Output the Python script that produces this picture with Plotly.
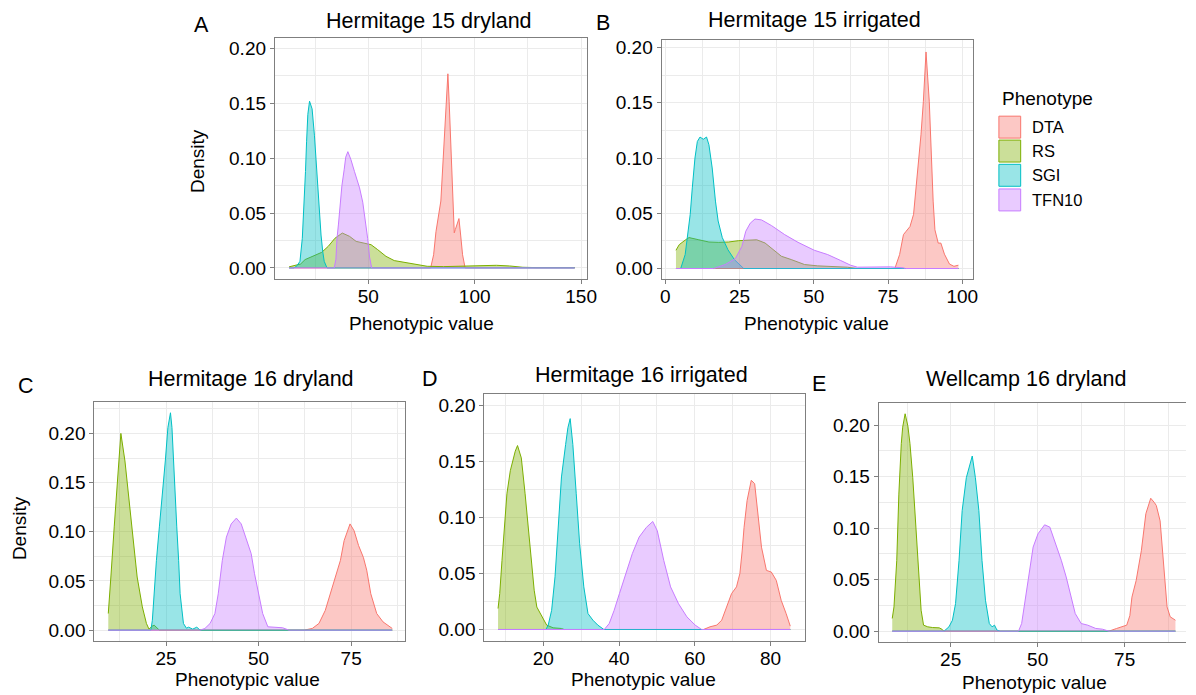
import plotly.graph_objects as go

W, H = 1196, 695

# ---------------- data ----------------
phenotypes = ["DTA", "RS", "SGI", "TFN10"]
line_colors = ["#F8766D", "#7CAE00", "#00BFC4", "#C77CFF"]
fill_colors = ["rgba(248,118,109,0.4)", "rgba(124,174,0,0.4)",
               "rgba(0,191,196,0.4)", "rgba(199,124,255,0.4)"]

panel_titles = ["Hermitage 15 dryland", "Hermitage 15 irrigated",
                "Hermitage 16 dryland", "Hermitage 16 irrigated",
                "Wellcamp 16 dryland"]
panel_letters = ["A", "B", "C", "D", "E"]

# Panel A  - Hermitage 15 dryland
A_DTA_x = [12.8, 79.3, 80.7, 81.8, 84.1, 85.0, 86.0, 86.7, 87.4, 88.0, 88.6, 89.0, 89.6, 90.4,
           90.9, 91.9, 92.6, 93.4, 94.3, 95.5, 147.0]
A_DTA_y = [0, 0, 0.012, 0.033, 0.061, 0.091, 0.121, 0.152, 0.177, 0.152, 0.121, 0.091, 0.061,
           0.032, 0.035, 0.042, 0.045, 0.030, 0.012, 0, 0]
A_RS_x = [12.8, 15.5, 18.2, 20.3, 24.2, 28.1, 31.2, 34.3, 37.8, 41.2, 44.3, 48.2, 51.3, 54.4,
          58.3, 62.2, 66.8, 71.5, 77.7, 85.4, 97.8, 104.0, 110.2, 116.4, 122.6, 128.8, 147.0]
A_RS_y = [0.001, 0.002, 0.0036, 0.0076, 0.0106, 0.0142, 0.0197, 0.027, 0.0318, 0.0288, 0.0242,
          0.0224, 0.0212, 0.0167, 0.0106, 0.0067, 0.0052, 0.0033, 0.0015, 0.0012, 0.0015, 0.0018,
          0.0024, 0.0018, 0.0006, 0.0003, 0.0003]
A_SGI_x = [12.8, 15.1, 16.5, 17.9, 19.0, 19.8, 20.5, 21.0, 21.6, 22.4, 23.6, 24.7, 25.7, 26.7,
           27.8, 28.6, 29.3, 30.6, 147.0]
A_SGI_y = [0, 0, 0.002, 0.006, 0.027, 0.055, 0.088, 0.115, 0.140, 0.152, 0.145, 0.121, 0.091,
           0.060, 0.030, 0.015, 0.006, 0, 0]
A_TFN10_x = [12.8, 34.0, 34.8, 35.3, 36.0, 36.8, 37.6, 38.7, 39.4, 40.4, 41.8, 43.5, 44.6, 45.9,
             47.4, 48.8, 49.7, 50.6, 51.6, 147.0]
A_TFN10_y = [0, 0, 0.008, 0.027, 0.040, 0.058, 0.075, 0.090, 0.101, 0.106, 0.099, 0.088, 0.082,
             0.073, 0.060, 0.042, 0.027, 0.010, 0, 0]

# Panel B  - Hermitage 15 irrigated
B_DTA_x = [3.6, 77.3, 78.9, 80.2, 81.1, 82.4, 83.6, 84.4, 85.0, 86.1, 86.9, 87.8, 88.9, 89.3,
           89.8, 90.2, 90.8, 91.9, 92.8, 94.0, 95.7, 97.2, 98.7]
B_DTA_y = [0, 0, 0.0126, 0.0307, 0.0337, 0.038, 0.049, 0.070, 0.0908, 0.121, 0.151, 0.196,
           0.151, 0.121, 0.091, 0.061, 0.035, 0.023, 0.023, 0.013, 0.004, 0.002, 0.003]
B_RS_x = [3.6, 4.7, 6.9, 8.0, 11.3, 14.7, 18.0, 21.3, 24.7, 28.0, 30.8, 33.6, 36.3, 39.1, 42.4,
          46.9, 51.3, 56.9, 61.3, 64.7, 98.7]
B_RS_y = [0.0165, 0.0216, 0.0261, 0.028, 0.026, 0.024, 0.0237, 0.024, 0.0252, 0.026, 0.026,
          0.0231, 0.0171, 0.0111, 0.0081, 0.0036, 0.0024, 0.0021, 0.0012, 0, 0]
B_SGI_x = [3.6, 5.2, 6.7, 7.6, 8.4, 9.1, 10.0, 10.8, 11.7, 12.8, 13.9, 14.7, 15.8, 16.9, 17.8,
           19.2, 21.1, 23.3, 26.4, 98.7]
B_SGI_y = [0, 0, 0.0126, 0.031, 0.049, 0.073, 0.100, 0.115, 0.119, 0.117, 0.119, 0.112, 0.091,
           0.061, 0.043, 0.028, 0.017, 0.008, 0, 0]
B_TFN10_x = [3.6, 16.3, 20.2, 23.6, 25.8, 27.1, 28.6, 30.2, 32.4, 35.8, 40.2, 44.7, 50.2, 54.7,
             59.1, 62.4, 64.7, 70.2, 73.6, 75.8, 80.2, 80.8, 98.7]
B_TFN10_y = [0, 0, 0.0036, 0.009, 0.020, 0.0337, 0.041, 0.0448, 0.044, 0.0388, 0.0307, 0.0237,
             0.0165, 0.0126, 0.0072, 0.003, 0.0012, 0.0015, 0.002, 0.0015, 0.0006, 0, 0]

# Panel C  - Hermitage 16 dryland
C_DTA_x = [9.4, 62.3, 64.5, 66.3, 68.0, 69.4, 70.7, 72.1, 73.1, 74.7, 75.8, 77.0, 78.3, 79.2,
           80.3, 81.9, 83.6, 85.4, 86.1]
C_DTA_y = [0, 0, 0.0017, 0.0068, 0.020, 0.037, 0.054, 0.071, 0.091, 0.108, 0.101, 0.086, 0.074,
           0.061, 0.037, 0.0169, 0.0084, 0.0034, 0.0017]
C_RS_x = [9.4, 9.8, 10.1, 11.0, 11.9, 12.8, 13.9, 15.0, 16.2, 17.2, 18.6, 19.7, 20.4, 21.2,
          21.8, 22.6, 23.2, 86.1]
C_RS_y = [0.0169, 0.035, 0.054, 0.105, 0.155, 0.200, 0.172, 0.132, 0.088, 0.054, 0.0236,
          0.0068, 0.001, 0.004, 0.005, 0.002, 0, 0]
C_SGI_x = [9.4, 20.9, 21.3, 21.7, 22.4, 23.2, 24.1, 24.8, 25.5, 26.2, 26.6, 27.0, 27.5, 27.9,
           28.4, 28.8, 29.7, 30.5, 31.1, 32.2, 33.3, 34.2, 86.1]
C_SGI_y = [0, 0, 0.010, 0.037, 0.071, 0.105, 0.139, 0.172, 0.206, 0.221, 0.206, 0.172, 0.139,
           0.105, 0.071, 0.037, 0.0068, 0.002, 0.003, 0.001, 0.003, 0, 0]
C_TFN10_x = [9.4, 34.2, 35.5, 36.9, 38.2, 39.1, 40.2, 41.3, 42.6, 44.0, 45.3, 46.7, 48.0, 48.9,
             50.0, 51.1, 52.5, 54.7, 56.5, 58.2, 86.1]
C_TFN10_y = [0, 0, 0.0017, 0.0068, 0.0169, 0.037, 0.071, 0.0946, 0.108, 0.1139, 0.108, 0.091,
             0.0777, 0.0574, 0.037, 0.0169, 0.0034, 0.0027, 0.0024, 0, 0]

# Panel D  - Hermitage 16 irrigated
D_DTA_x = [8.06, 62.3, 64.0, 65.8, 67.1, 68.4, 69.7, 71.0, 71.9, 72.5, 73.0, 73.8, 74.9, 75.8,
           76.7, 77.6, 78.9, 80.2, 81.5, 82.8, 84.1, 84.8, 85.2]
D_DTA_y = [0, 0, 0.0024, 0.0039, 0.0083, 0.020, 0.032, 0.038, 0.050, 0.070, 0.091, 0.115,
           0.133, 0.130, 0.103, 0.0734, 0.0527, 0.0512, 0.0438, 0.026, 0.0142, 0.006, 0.003]
D_RS_x = [8.06, 8.5, 9.1, 9.8, 10.4, 11.3, 12.6, 13.2, 14.2, 15.2, 16.1, 16.9, 17.6, 18.3, 19.6,
          20.9, 22.6, 24.8, 25.5, 85.2]
D_RS_y = [0.0187, 0.032, 0.0616, 0.091, 0.121, 0.1416, 0.159, 0.164, 0.153, 0.121, 0.091,
          0.0616, 0.035, 0.020, 0.0113, 0.0039, 0.0015, 0.0009, 0, 0]
D_SGI_x = [8.06, 20.7, 21.3, 22.2, 23.1, 23.9, 24.8, 25.9, 26.5, 27.1, 27.8, 28.7, 29.6, 30.7,
           31.8, 33.1, 34.4, 36.0, 85.2]
D_SGI_y = [0, 0, 0.0039, 0.017, 0.047, 0.091, 0.136, 0.165, 0.180, 0.188, 0.165, 0.121, 0.0764,
           0.038, 0.0142, 0.0083, 0.0039, 0, 0]
D_TFN10_x = [8.06, 36.1, 37.4, 38.7, 40.1, 41.8, 43.5, 45.3, 47.2, 48.9, 50.1, 51.8, 53.6, 55.7,
             57.9, 60.1, 61.8, 85.2]
D_TFN10_y = [0, 0, 0.0053, 0.017, 0.032, 0.050, 0.0676, 0.0824, 0.091, 0.0963, 0.088, 0.0616,
             0.038, 0.023, 0.0113, 0.0039, 0, 0]

# Panel E  - Wellcamp 16 dryland
E_DTA_x = [8.2, 70.5, 72.7, 75.6, 76.5, 77.1, 78.3, 79.8, 81.1, 82.5, 83.5, 84.1, 85.2, 86.2,
           87.2, 88.1, 89.0, 89.6]
E_DTA_y = [0, 0, 0.0026, 0.0058, 0.015, 0.033, 0.049, 0.078, 0.114, 0.129, 0.125, 0.122, 0.107,
           0.0655, 0.0235, 0.0139, 0.0115, 0.0106]
E_RS_x = [8.2, 8.7, 9.5, 10.1, 10.8, 11.2, 11.9, 12.7, 13.3, 14.1, 15.0, 15.8, 16.5, 17.2, 18.4,
          19.8, 21.7, 22.6, 23.0, 89.6]
E_RS_y = [0.0123, 0.0235, 0.0687, 0.133, 0.182, 0.198, 0.211, 0.199, 0.182, 0.149, 0.101,
          0.0558, 0.0203, 0.0058, 0.0042, 0.0035, 0.0032, 0.0016, 0, 0]
E_SGI_x = [8.2, 23.1, 24.5, 25.5, 26.4, 27.4, 28.3, 29.5, 31.2, 32.1, 33.1, 34.0, 35.0, 36.1,
           36.9, 37.6, 38.3, 39.2, 89.6]
E_SGI_y = [0, 0, 0.0042, 0.0106, 0.0268, 0.0687, 0.117, 0.149, 0.170, 0.149, 0.117, 0.0687,
           0.030, 0.0074, 0.0042, 0.0058, 0.001, 0, 0]
E_TFN10_x = [8.2, 44.5, 45.4, 46.3, 47.5, 48.7, 50.1, 52.0, 53.5, 54.9, 56.8, 58.2, 59.4, 60.8,
             62.5, 64.4, 66.7, 68.6, 70.5, 89.6]
E_TFN10_y = [0, 0, 0.0074, 0.0268, 0.0558, 0.0816, 0.0945, 0.1032, 0.101, 0.088, 0.0687,
             0.0526, 0.0365, 0.0171, 0.0074, 0.0058, 0.0026, 0.0019, 0, 0]

y_ticks = [0.0, 0.05, 0.10, 0.15, 0.20]
x_ticks = [[50, 100, 150], [0, 25, 50, 75, 100], [25, 50, 75], [20, 40, 60, 80], [25, 50, 75]]

series = [
    [(A_DTA_x, A_DTA_y), (A_RS_x, A_RS_y), (A_SGI_x, A_SGI_y), (A_TFN10_x, A_TFN10_y)],
    [(B_DTA_x, B_DTA_y), (B_RS_x, B_RS_y), (B_SGI_x, B_SGI_y), (B_TFN10_x, B_TFN10_y)],
    [(C_DTA_x, C_DTA_y), (C_RS_x, C_RS_y), (C_SGI_x, C_SGI_y), (C_TFN10_x, C_TFN10_y)],
    [(D_DTA_x, D_DTA_y), (D_RS_x, D_RS_y), (D_SGI_x, D_SGI_y), (D_TFN10_x, D_TFN10_y)],
    [(E_DTA_x, E_DTA_y), (E_RS_x, E_RS_y), (E_SGI_x, E_SGI_y), (E_TFN10_x, E_TFN10_y)],
]

# ---------------- layout geometry (pixels) ----------------
# plot-area boxes: left, right, top, bottom
boxes = [(275.7, 591.0, 35.7, 277.7),
         (666.3, 980.7, 37.7, 277.7),
         (93.3, 407.3, 401.0, 641.0),
         (487.3, 810.7, 393.3, 641.0),
         (885.7, 1196.0, 401.7, 641.7)]
x_ranges = [(6.14, 152.8), (-1.23, 103.57), (5.64, 89.6), (4.46, 88.97), (4.34, 92.64)]
y_ranges = [(-0.01, 0.21), (-0.0094, 0.2072), (-0.0112, 0.2321), (-0.0104, 0.2098), (-0.0104, 0.2219)]
x_dticks = [50, 25, 25, 20, 25]

def fx(px):
    return px / W

def fy(py):
    return 1 - py / H

FONT = "Liberation Sans, Arial, sans-serif"
BORDER = "#7f7f7f"
GRID = "#ebebeb"

fig = go.Figure()
layout = dict(width=W, height=H, margin=dict(l=0, r=0, t=0, b=0),
              paper_bgcolor="white", plot_bgcolor="white",
              font=dict(family=FONT, color="black"), showlegend=False)

for i in range(5):
    n = "" if i == 0 else str(i + 1)
    l, r, t, b = boxes[i]
    for k in range(4):
        sx, sy = series[i][k]
        fig.add_trace(go.Scatter(x=sx, y=sy, mode="lines", fill="tozeroy",
                                 fillcolor=fill_colors[k],
                                 line=dict(color=line_colors[k], width=1),
                                 name=phenotypes[k], xaxis="x" + n, yaxis="y" + n,
                                 hoverinfo="skip"))
    last = (i == 4)
    layout["xaxis" + n] = dict(
        domain=[fx(l), min(1.0, fx(r))], anchor="y" + n, range=list(x_ranges[i]),
        tickmode="array", tickvals=x_ticks[i], ticktext=[str(v) for v in x_ticks[i]],
        ticks="outside", ticklen=4, tickcolor=BORDER, tickwidth=1,
        ticklabelstandoff=-4,
        tickfont=dict(size=19, color="black", family=FONT),
        showgrid=True, gridcolor=GRID, gridwidth=1.2,
        minor=dict(dtick=x_dticks[i] / 2, tick0=0, showgrid=True, gridcolor=GRID, gridwidth=0.6, ticks=""),
        showline=True, linecolor=BORDER, linewidth=1.2, mirror=True, zeroline=False,
        fixedrange=True)
    layout["yaxis" + n] = dict(
        domain=[fy(b), fy(t)], anchor="x" + n, range=list(y_ranges[i]),
        tickmode="array", tickvals=y_ticks, ticktext=["%.2f" % v for v in y_ticks],
        ticks="outside", ticklen=4, tickcolor=BORDER, tickwidth=1,
        tickfont=dict(size=19, color="black", family=FONT),
        showgrid=True, gridcolor=GRID, gridwidth=1.2,
        minor=dict(dtick=0.025, tick0=0, showgrid=True, gridcolor=GRID, gridwidth=0.6, ticks=""),
        showline=True, linecolor=BORDER, linewidth=1.2, mirror=(not last), zeroline=False,
        fixedrange=True)

annotations = []
shapes = []

def add_text(text, px, py, size, xanchor="center", yanchor="middle", angle=0):
    annotations.append(dict(text=text, x=fx(px), y=fy(py), xref="paper", yref="paper",
                            xanchor=xanchor, yanchor=yanchor, showarrow=False,
                            textangle=angle, font=dict(size=size, family=FONT, color="black")))

title_pos = [(431.3, 19.0), (820.8, 18.0), (251.7, 377.8), (646.3, 374.0), (1034.7, 377.8)]
letter_pos = [(202.0, 23.0), (606.7, 21.3), (24.7, 385.0), (432.0, 378.3), (825.5, 382.8)]
xtitle_pos = [(423.5, 322.7), (822.5, 322.7), (247.5, 679.3), (647.5, 679.3), (1042.5, 682.7)]

for i in range(5):
    add_text(panel_titles[i], title_pos[i][0], title_pos[i][1], 21.5)
    add_text(panel_letters[i], letter_pos[i][0], letter_pos[i][1], 21.5)
    add_text("Phenotypic value", xtitle_pos[i][0], xtitle_pos[i][1], 19)

add_text("Density", 197.5, 160.0, 19, angle=-90)
add_text("Density", 18.3, 527.5, 19, angle=-90)

# legend (drawn manually to match ggplot keys)
add_text("Phenotype", 1008.3, 96.7, 19, xanchor="left")
key_tops = [114.5, 138.5, 162.8, 187.5]
for k in range(4):
    y0 = key_tops[k]
    shapes.append(dict(type="rect", xref="paper", yref="paper",
                       x0=fx(1007.0), x1=fx(1029.0), y0=fy(y0 + 22), y1=fy(y0),
                       fillcolor=fill_colors[k], line=dict(color=line_colors[k], width=1)))
    add_text(phenotypes[k], 1038.3, y0 + 11, 16.5, xanchor="left")

layout["annotations"] = annotations
layout["shapes"] = shapes
fig.update_layout(**layout)
fig.write_html("out.html")
